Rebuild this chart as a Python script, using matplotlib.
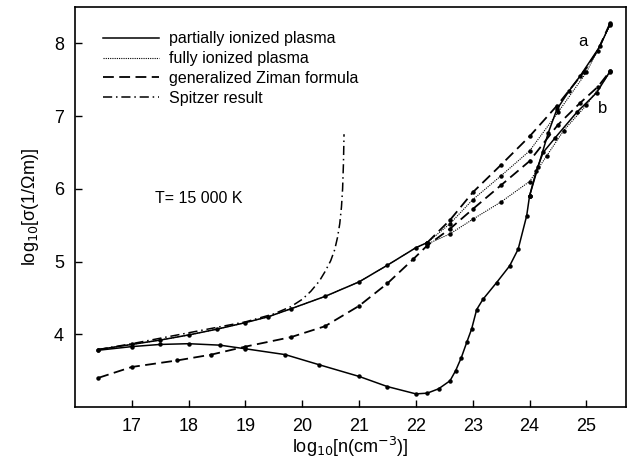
import matplotlib.pyplot as plt

plt.rcParams['font.family'] = ['Liberation Sans', 'DejaVu Sans']

# ----- data -----

# common low-density branch (partially / fully ionized)
x_upper = [16.41, 17.0, 17.5, 18.0, 18.5, 19.0, 19.4, 19.8, 20.4, 21.0, 21.5, 22.0, 22.2]
y_upper = [3.79, 3.86, 3.92, 3.99, 4.07, 4.16, 4.24, 4.35, 4.52, 4.72, 4.95, 5.19, 5.26]

# partially ionized plasma, lower branch
x_part = [16.41, 17.0, 17.5, 18.0, 18.55, 19.0, 19.7, 20.3, 21.0, 21.5, 22.0, 22.2, 22.4,
          22.6, 22.7, 22.8, 22.9, 22.98, 23.07, 23.18, 23.42, 23.65, 23.8, 23.95, 24.0]
y_part = [3.78, 3.83, 3.86, 3.87, 3.85, 3.80, 3.72, 3.58, 3.42, 3.28, 3.18, 3.19, 3.25,
          3.36, 3.50, 3.68, 3.90, 4.07, 4.34, 4.48, 4.71, 4.94, 5.17, 5.63, 5.90]
x_part_a = [24.0, 24.15, 24.33, 24.48, 24.7, 24.89, 25.24, 25.42]
y_part_a = [5.90, 6.30, 6.77, 7.09, 7.35, 7.55, 7.96, 8.27]
x_part_b = [24.0, 24.12, 24.24, 24.45, 24.83, 25.18, 25.42]
y_part_b = [5.90, 6.25, 6.50, 6.70, 7.05, 7.32, 7.62]

# fully ionized plasma (after the crossing)
x_full_a = [22.2, 22.6, 23.0, 23.5, 24.0, 24.5, 25.0, 25.42]
y_full_a = [5.26, 5.52, 5.85, 6.18, 6.52, 7.05, 7.60, 8.25]
x_full_b = [22.2, 22.6, 23.0, 23.5, 24.0, 24.3, 24.6, 25.0, 25.42]
y_full_b = [5.24, 5.38, 5.58, 5.82, 6.10, 6.45, 6.80, 7.15, 7.60]

# generalized Ziman formula
x_zim_a = [22.2, 22.6, 23.0, 23.5, 24.0, 24.48, 24.95, 25.2, 25.42]
y_zim_a = [5.26, 5.57, 5.95, 6.33, 6.72, 7.14, 7.60, 7.90, 8.28]
x_zim_b = [16.41, 17.0, 17.8, 18.4, 19.0, 19.8, 20.4, 21.0, 21.5, 21.95, 22.2,
           22.6, 23.0, 23.5, 24.0, 24.5, 24.89, 25.2, 25.42]
y_zim_b = [3.40, 3.55, 3.64, 3.72, 3.83, 3.96, 4.11, 4.39, 4.70, 5.03, 5.22,
           5.45, 5.72, 6.05, 6.38, 6.88, 7.18, 7.40, 7.62]

# Spitzer result
x_spitz = [16.41, 17.0, 18.0, 19.0, 19.5, 19.8, 20.0, 20.15, 20.3, 20.4, 20.5,
           20.57, 20.62, 20.66, 20.69, 20.71, 20.725, 20.735]
y_spitz = [3.79, 3.87, 4.02, 4.17, 4.28, 4.38, 4.48, 4.59, 4.73, 4.86, 5.01,
           5.16, 5.33, 5.52, 5.75, 6.00, 6.35, 6.75]

xticks = [17, 18, 19, 20, 21, 22, 23, 24, 25]
yticks = [4, 5, 6, 7, 8]

# ----- figure -----

fig = plt.figure(figsize=(6.27, 4.63), dpi=100)
ax = fig.add_axes([0.1196, 0.121, 0.879, 0.864])

mk = dict(color='black', marker='o', markersize=2.2)
dash = (0, (6, 3))
dot = (0, (1, 1))
dashdot = (0, (6, 2.5, 1, 2.5))

ax.plot(x_upper, y_upper, '-', lw=1.1, **mk)
ax.plot(x_upper, y_upper, linestyle=dot, lw=0.8, color='black')
ax.plot(x_part, y_part, '-', lw=1.1, **mk)
ax.plot(x_part_a, y_part_a, '-', lw=1.1, **mk)
ax.plot(x_part_b, y_part_b, '-', lw=1.1, **mk)
ax.plot(x_full_a, y_full_a, linestyle=dot, lw=0.8, **mk)
ax.plot(x_full_b, y_full_b, linestyle=dot, lw=0.8, **mk)
ax.plot(x_zim_a, y_zim_a, linestyle=dash, lw=1.3, **mk)
ax.plot(x_zim_b, y_zim_b, linestyle=dash, lw=1.3, **mk)
ax.plot(x_spitz, y_spitz, linestyle=dashdot, lw=1.1, color='black')

# legend drawn with proxy lines
h1, = ax.plot([], [], '-', lw=1.1, color='black')
h2, = ax.plot([], [], linestyle=dot, lw=0.8, color='black')
h3, = ax.plot([], [], linestyle=dash, lw=1.3, color='black')
h4, = ax.plot([], [], linestyle=dashdot, lw=1.1, color='black')
ax.legend([h1, h2, h3, h4],
          ['partially ionized plasma', 'fully ionized plasma',
           'generalized Ziman formula', 'Spitzer result'],
          loc='upper left', bbox_to_anchor=(0.025, 0.975), frameon=False,
          fontsize=11.5, handlelength=3.5, handletextpad=0.6, labelspacing=0.3)

ax.text(17.4, 5.86, 'T= 15 000 K', fontsize=11.5, va='center')
ax.text(24.94, 8.03, 'a', fontsize=12, ha='center', va='center')
ax.text(25.29, 7.10, 'b', fontsize=12, ha='center', va='center')

ax.set_xlim(16.0, 25.7)
ax.set_ylim(3.0, 8.5)
ax.set_xticks(xticks)
ax.set_yticks(yticks)
ax.tick_params(direction='in', length=5, width=1, labelsize=13, pad=8)
for s in ax.spines.values():
    s.set_linewidth(1.2)

ax.set_xlabel('log$_{10}$[n(cm$^{-3}$)]', fontsize=13, labelpad=0)
ax.set_ylabel('log$_{10}$[σ(1/Ωm)]', fontsize=13, labelpad=9)

fig.savefig('out.png', dpi=100)
